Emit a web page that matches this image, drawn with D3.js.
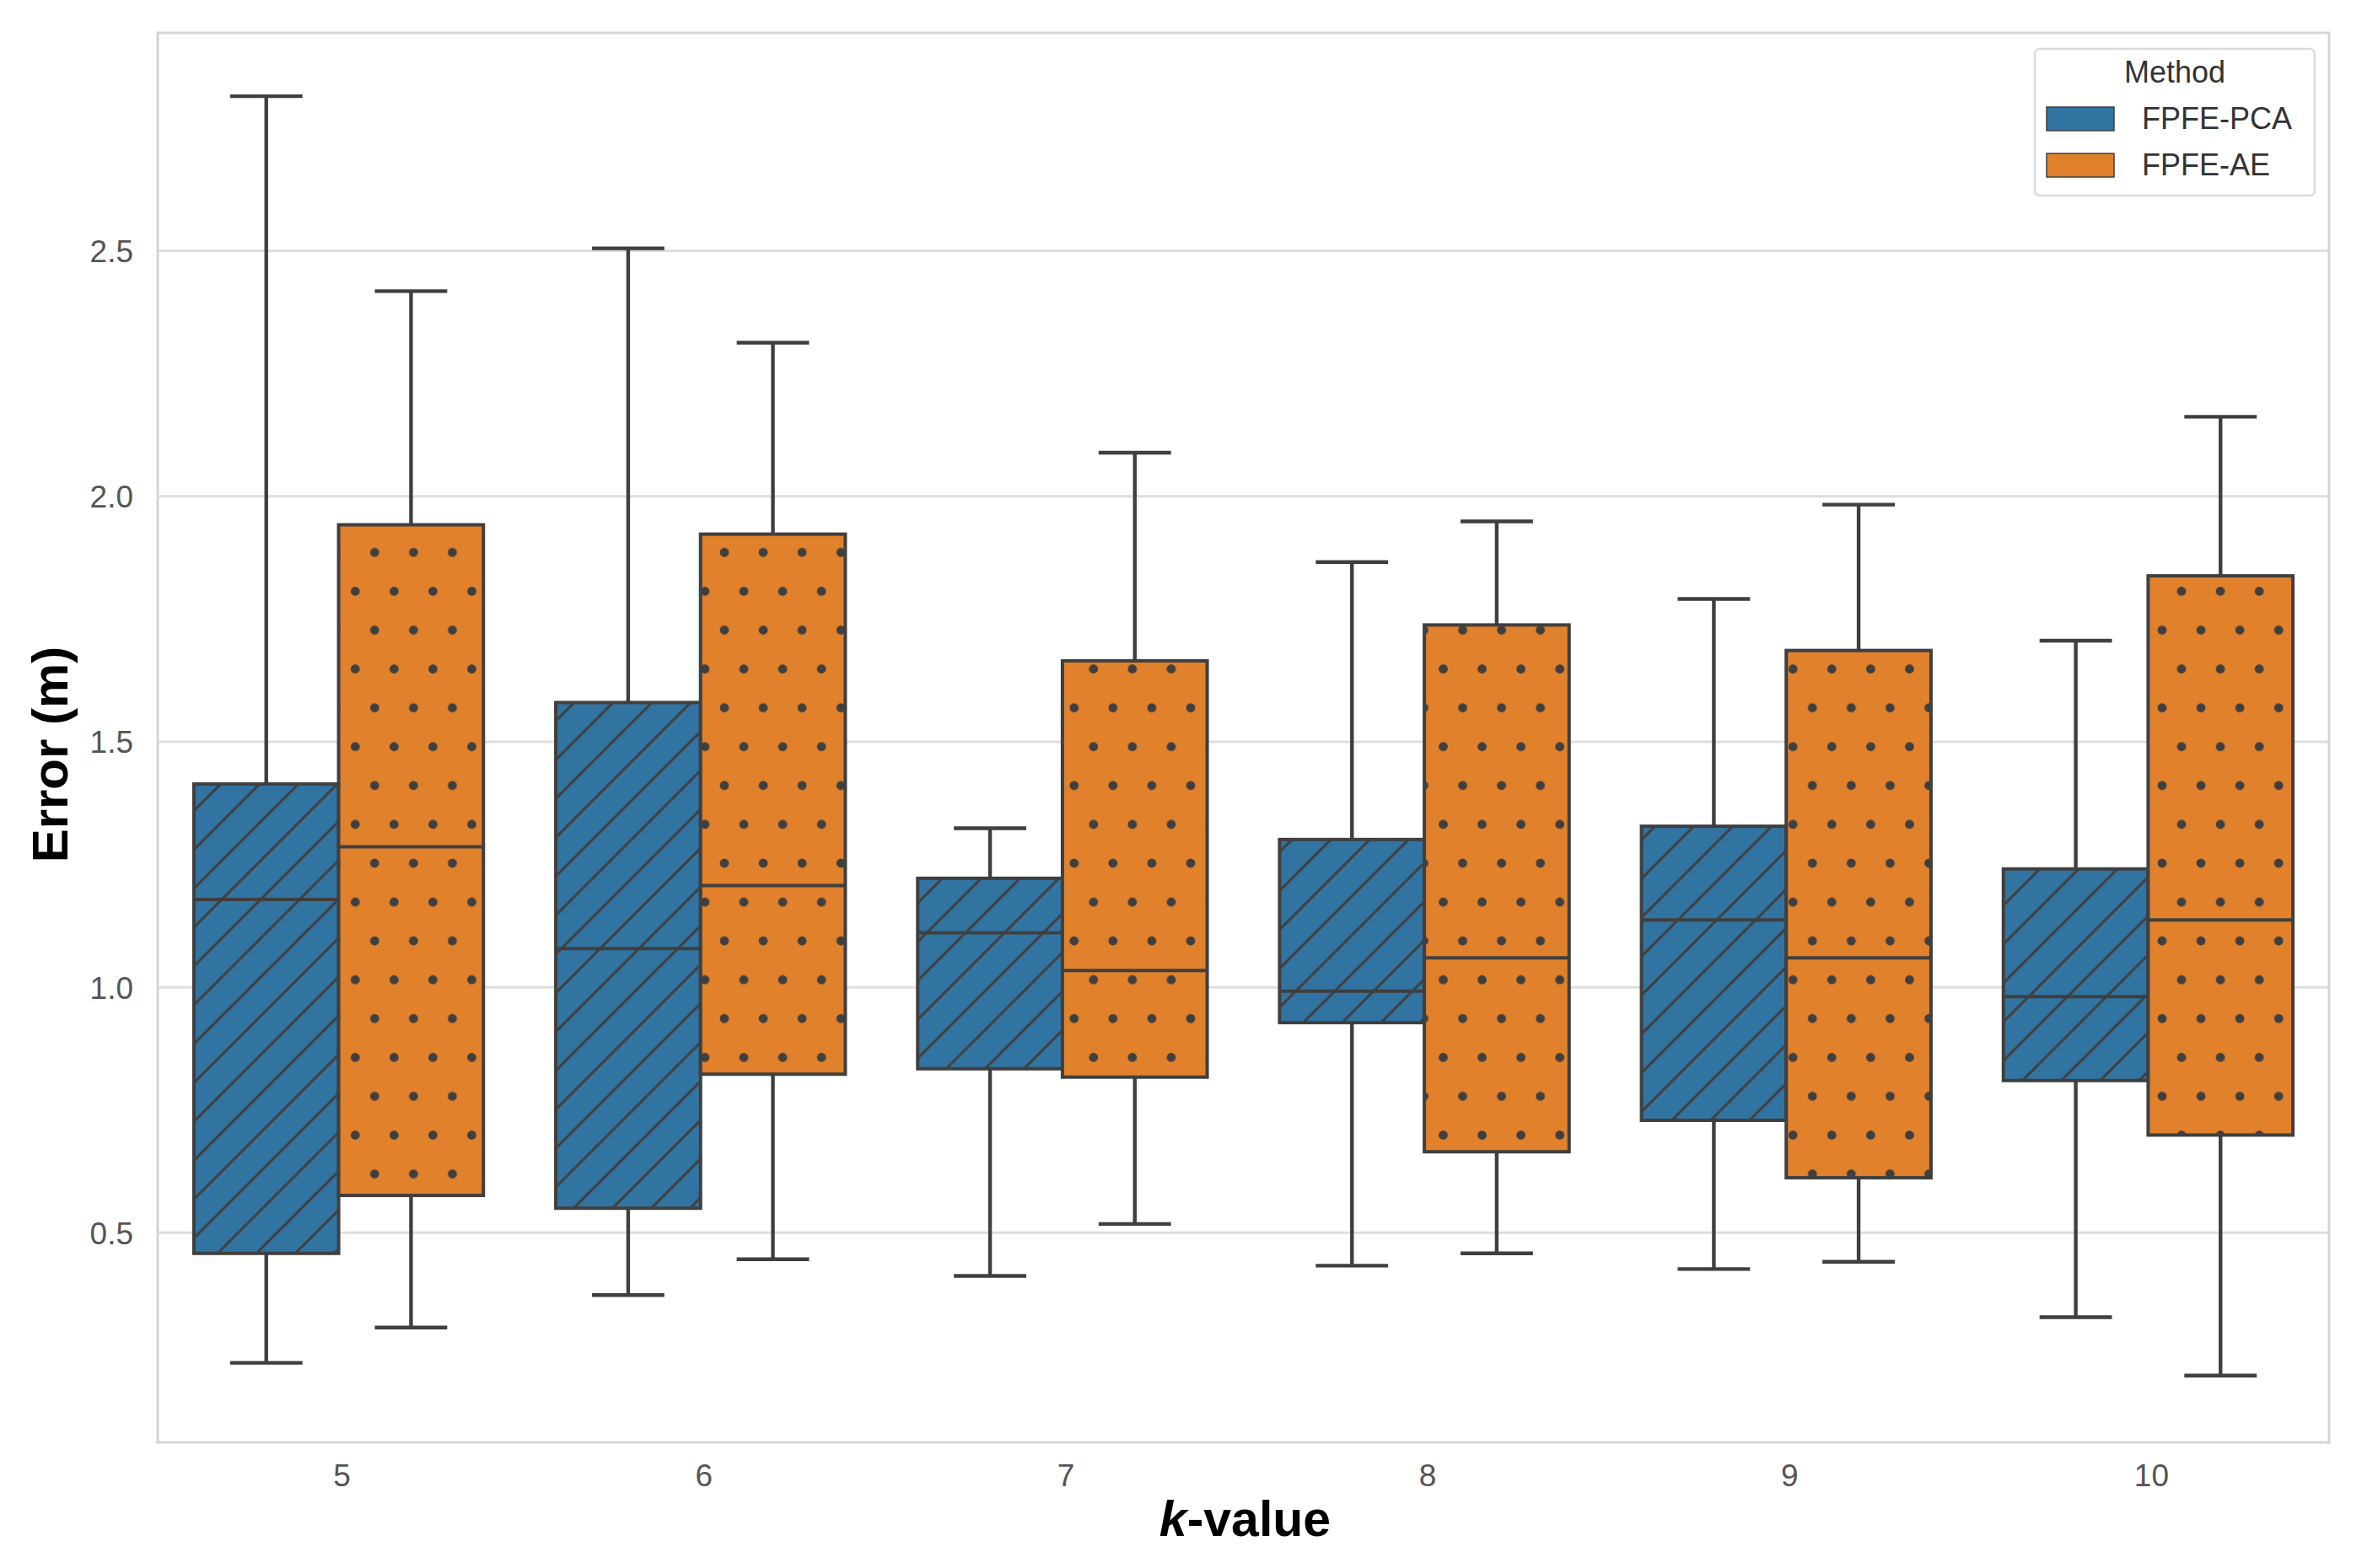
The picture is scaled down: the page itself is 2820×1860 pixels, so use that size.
<!DOCTYPE html>
<html>
<head>
<meta charset="utf-8">
<script src="https://cdn.jsdelivr.net/npm/d3@7"></script>
<style>
  html, body { margin: 0; padding: 0; background: #fff; }
  svg { display: block; font-family: "Liberation Sans", Arial, sans-serif; }
</style>
</head>
<body>
<div id="chart"></div>
<script>
// k-values on the x axis
const kValues = ["5", "6", "7", "8", "9", "10"];
const methods = ["FPFE-PCA", "FPFE-AE"];
const yTicks = [0.5, 1.0, 1.5, 2.0, 2.5];

// box stats: lower whisker, q1, median, q3, upper whisker
const pcaLow    = [0.235, 0.373, 0.412, 0.433, 0.426, 0.328];
const pcaQ1     = [0.458, 0.550, 0.834, 0.928, 0.729, 0.810];
const pcaMedian = [1.179, 1.079, 1.111, 0.992, 1.137, 0.981];
const pcaQ3     = [1.414, 1.580, 1.222, 1.301, 1.328, 1.241];
const pcaHigh   = [2.815, 2.505, 1.324, 1.866, 1.791, 1.706];

const aeLow    = [0.307, 0.446, 0.518, 0.458, 0.441, 0.209];
const aeQ1     = [0.576, 0.823, 0.817, 0.665, 0.612, 0.699];
const aeMedian = [1.286, 1.207, 1.034, 1.060, 1.060, 1.137];
const aeQ3     = [1.942, 1.923, 1.665, 1.738, 1.686, 1.838];
const aeHigh   = [2.418, 2.313, 2.089, 1.949, 1.983, 2.162];

const yDomain = [0.073, 2.944];

const width = 2820;
const height = 1860;
const plot = { left: 187, right: 2762, top: 39, bottom: 1711 };

const colors = { "FPFE-PCA": "#3274a1", "FPFE-AE": "#e1812c" };
const edgeColor = "#3f3f3f";

// flatten into one row per box
const boxes = [];
kValues.forEach((k, i) => {
  boxes.push({ k, method: "FPFE-PCA", low: pcaLow[i], q1: pcaQ1[i], med: pcaMedian[i], q3: pcaQ3[i], high: pcaHigh[i] });
  boxes.push({ k, method: "FPFE-AE", low: aeLow[i], q1: aeQ1[i], med: aeMedian[i], q3: aeQ3[i], high: aeHigh[i] });
});

const svg = d3.select("#chart")
  .append("svg")
  .attr("width", width)
  .attr("height", height)
  .attr("viewBox", `0 0 ${width} ${height}`);

svg.append("rect").attr("width", width).attr("height", height).attr("fill", "#fff");

const x = d3.scaleBand().domain(kValues).range([plot.left, plot.right]).padding(0);
const xInner = d3.scaleBand().domain(methods).range([0.1 * x.bandwidth(), 0.9 * x.bandwidth()]).padding(0);
const y = d3.scaleLinear().domain(yDomain).range([plot.bottom, plot.top]);

// hatch patterns, anchored to page coords like matplotlib does
const step = 46.08;
const defs = svg.append("defs");

const hatch = defs.append("pattern")
  .attr("id", "hatch-slash")
  .attr("patternUnits", "userSpaceOnUse")
  .attr("x", 444.3)
  .attr("y", 655.3)
  .attr("width", step)
  .attr("height", step);
[-1, 0, 1].forEach((o) => {
  hatch.append("line")
    .attr("x1", o * step - step * 0.1)
    .attr("y1", step + step * 0.1)
    .attr("x2", (o + 1) * step + step * 0.1)
    .attr("y2", -step * 0.1)
    .attr("stroke", edgeColor)
    .attr("stroke-width", 3);
});

const dots = defs.append("pattern")
  .attr("id", "hatch-dots")
  .attr("patternUnits", "userSpaceOnUse")
  .attr("x", 444.3)
  .attr("y", 655.3)
  .attr("width", step)
  .attr("height", step * 2);
[[0, 0], [step, 0], [0, 2 * step], [step, 2 * step], [step / 2, step]].forEach(([cx, cy]) => {
  dots.append("circle").attr("cx", cx).attr("cy", cy).attr("r", 5.4).attr("fill", edgeColor);
});

const hatchFor = { "FPFE-PCA": "url(#hatch-slash)", "FPFE-AE": "url(#hatch-dots)" };

// grid
svg.append("g")
  .selectAll("line")
  .data(yTicks)
  .join("line")
  .attr("x1", plot.left)
  .attr("x2", plot.right)
  .attr("y1", (d) => y(d))
  .attr("y2", (d) => y(d))
  .attr("stroke", "#dedede")
  .attr("stroke-width", 3);

// y axis tick labels
const yAxis = d3.axisLeft(y).tickValues(yTicks).tickFormat(d3.format(".1f")).tickSize(0).tickPadding(29);
const yAxisG = svg.append("g").attr("transform", `translate(${plot.left},0)`).call(yAxis);
yAxisG.select(".domain").remove();
yAxisG.selectAll("text")
  .attr("font-family", "Liberation Sans, Arial, sans-serif")
  .attr("font-size", 37)
  .attr("fill", "#555")
  .attr("dy", "0.35em");

// x axis tick labels
const xAxis = d3.axisBottom(x).tickSize(0).tickPadding(26);
const xAxisG = svg.append("g").attr("transform", `translate(4,${plot.bottom})`).call(xAxis);
xAxisG.select(".domain").remove();
xAxisG.selectAll("text")
  .attr("font-family", "Liberation Sans, Arial, sans-serif")
  .attr("font-size", 37)
  .attr("fill", "#555");

// boxes
const boxG = svg.append("g")
  .selectAll("g.box")
  .data(boxes)
  .join("g")
  .attr("class", "box");

const bx = (d) => x(d.k) + xInner(d.method);
const bw = xInner.bandwidth();

// whiskers
boxG.append("line")
  .attr("x1", (d) => bx(d) + bw / 2)
  .attr("x2", (d) => bx(d) + bw / 2)
  .attr("y1", (d) => y(d.q3))
  .attr("y2", (d) => y(d.high))
  .attr("stroke", edgeColor).attr("stroke-width", 4.4);
boxG.append("line")
  .attr("x1", (d) => bx(d) + bw / 2)
  .attr("x2", (d) => bx(d) + bw / 2)
  .attr("y1", (d) => y(d.q1))
  .attr("y2", (d) => y(d.low))
  .attr("stroke", edgeColor).attr("stroke-width", 4.4);

// caps
["high", "low"].forEach((key) => {
  boxG.append("line")
    .attr("x1", (d) => bx(d) + bw / 4)
    .attr("x2", (d) => bx(d) + bw * 3 / 4)
    .attr("y1", (d) => y(d[key]))
    .attr("y2", (d) => y(d[key]))
    .attr("stroke", edgeColor).attr("stroke-width", 4.4);
});

boxG.append("rect")
  .attr("x", bx)
  .attr("width", bw)
  .attr("y", (d) => y(d.q3))
  .attr("height", (d) => y(d.q1) - y(d.q3))
  .attr("fill", (d) => colors[d.method]);

boxG.append("rect")
  .attr("x", bx)
  .attr("width", bw)
  .attr("y", (d) => y(d.q3))
  .attr("height", (d) => y(d.q1) - y(d.q3))
  .attr("fill", (d) => hatchFor[d.method])
  .attr("stroke", edgeColor)
  .attr("stroke-width", 4);

// medians
boxG.append("line")
  .attr("x1", bx)
  .attr("x2", (d) => bx(d) + bw)
  .attr("y1", (d) => y(d.med))
  .attr("y2", (d) => y(d.med))
  .attr("stroke", edgeColor).attr("stroke-width", 4);

// axes frame
svg.append("rect")
  .attr("x", plot.left)
  .attr("y", plot.top)
  .attr("width", plot.right - plot.left)
  .attr("height", plot.bottom - plot.top)
  .attr("fill", "none")
  .attr("stroke", "#d4d4d4")
  .attr("stroke-width", 3);

// axis titles
svg.append("text")
  .attr("x", (plot.left + plot.right) / 2 + 2)
  .attr("y", 1822)
  .attr("text-anchor", "middle")
  .attr("font-size", 59)
  .attr("font-weight", "bold")
  .attr("fill", "#000")
  .call((t) => {
    t.append("tspan").attr("font-style", "italic").text("k");
    t.append("tspan").text("-value");
  });

svg.append("text")
  .attr("transform", "translate(80,895) rotate(-90)")
  .attr("text-anchor", "middle")
  .attr("font-size", 60)
  .attr("font-weight", "bold")
  .attr("fill", "#000")
  .text("Error (m)");

// legend
const legend = svg.append("g").attr("transform", "translate(2413,58)");
legend.append("rect")
  .attr("width", 332)
  .attr("height", 174)
  .attr("rx", 6)
  .attr("fill", "#fff")
  .attr("fill-opacity", 0.85)
  .attr("stroke", "#dcdcdc")
  .attr("stroke-width", 2.5);
legend.append("text")
  .attr("x", 166)
  .attr("y", 40)
  .attr("text-anchor", "middle")
  .attr("font-size", 36)
  .attr("fill", "#333")
  .text("Method");
methods.forEach((m, i) => {
  const row = legend.append("g").attr("transform", `translate(0,${69 + i * 55})`);
  row.append("rect")
    .attr("x", 14)
    .attr("width", 80)
    .attr("height", 28)
    .attr("fill", colors[m])
    .attr("stroke", edgeColor)
    .attr("stroke-width", 1.5);
  row.append("text")
    .attr("x", 127)
    .attr("y", 26)
    .attr("font-size", 36)
    .attr("fill", "#333")
    .text(m);
});
</script>
</body>
</html>
